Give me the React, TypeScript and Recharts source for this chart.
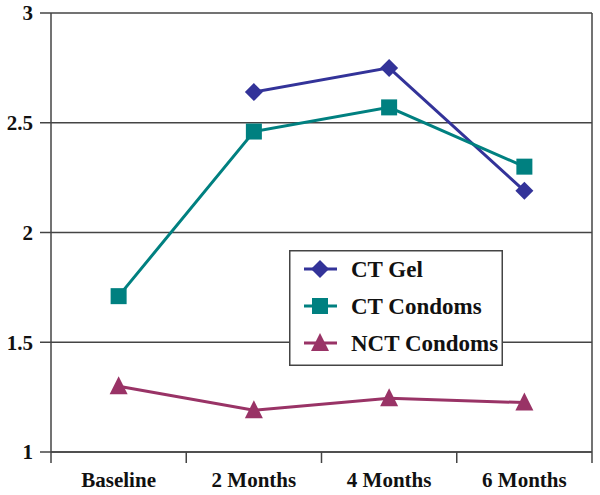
import { CartesianGrid, Line, LineChart, XAxis, YAxis } from 'recharts';

const categories = ['Baseline', '2 Months', '4 Months', '6 Months'];
const ctGel = [null, 2.64, 2.75, 2.19];
const ctCondoms = [1.71, 2.46, 2.57, 2.3];
const nctCondoms = [1.3, 1.19, 1.245, 1.225];
const yTicks = [1, 1.5, 2, 2.5, 3];

const GEL = '#333399';
const CONDOM = '#008080';
const NCT = '#993366';
const AXIS = '#444444';
const FONT = 'Liberation Serif, Times New Roman, serif';

const W = 600;
const H = 495;
const LEFT = 51;
const RIGHT = 8;
const band = (W - LEFT - RIGHT) / categories.length;

const data = categories.map((c, i) => ({
  name: c,
  gel: ctGel[i],
  condoms: ctCondoms[i],
  nct: nctCondoms[i],
}));

function Marker({ shape, cx, cy, color }: { shape: string; cx: number; cy: number; color: string }) {
  if (shape === 'diamond') {
    const r = 9;
    return <polygon points={`${cx},${cy - r} ${cx + r},${cy} ${cx},${cy + r} ${cx - r},${cy}`} fill={color} />;
  }
  if (shape === 'square') {
    return <rect x={cx - 8} y={cy - 8} width={16} height={16} fill={color} />;
  }
  return <polygon points={`${cx},${cy - 10} ${cx + 9},${cy + 8} ${cx - 9},${cy + 8}`} fill={color} />;
}

const makeDot = (shape: string, color: string) => (props: any) => {
  const { cx, cy, index, value } = props;
  if (cx == null || cy == null || value == null) return <g key={`${shape}-${index}`} />;
  return <Marker key={`${shape}-${index}`} shape={shape} cx={cx} cy={cy} color={color} />;
};

// category labels centred, tick marks on the band boundaries (Excel style)
function XTick(props: any) {
  const { x, y, payload, index } = props;
  const last = index === categories.length - 1;
  return (
    <g>
      <line x1={x - band / 2} x2={x - band / 2} y1={y} y2={y + 11} stroke={AXIS} strokeWidth={1.5} />
      {last && <line x1={x + band / 2} x2={x + band / 2} y1={y} y2={y + 11} stroke={AXIS} strokeWidth={1.5} />}
      <text
        x={x}
        y={y + 35}
        textAnchor="middle"
        style={{ fontFamily: FONT }}
        fontWeight="bold"
        fontSize={21}
        fill="#111"
      >
        {payload.value}
      </text>
    </g>
  );
}

const legendItems = [
  { label: 'CT Gel', color: GEL, shape: 'diamond' },
  { label: 'CT Condoms', color: CONDOM, shape: 'square' },
  { label: 'NCT Condoms', color: NCT, shape: 'triangle' },
];

function LegendBox() {
  return (
    <svg width={214} height={116} style={{ display: 'block' }}>
      <rect x={0.75} y={0.75} width={212.5} height={114.5} fill="#fff" stroke={AXIS} strokeWidth={1.5} />
      {legendItems.map((it, i) => {
        const cy = 19 + i * 37;
        return (
          <g key={it.label}>
            <line x1={15} x2={48} y1={cy} y2={cy} stroke={it.color} strokeWidth={3} />
            <Marker shape={it.shape} cx={31} cy={cy} color={it.color} />
            <text x={62} y={cy + 8} style={{ fontFamily: FONT }} fontWeight="bold" fontSize={23} fill="#111">
              {it.label}
            </text>
          </g>
        );
      })}
    </svg>
  );
}

export default function App() {
  return (
    <div
      style={{
        position: 'absolute',
        left: 0,
        top: 0,
        width: W,
        height: H,
        background: '#fff',
        fontFamily: FONT,
        fontWeight: 'bold',
      }}
    >
      <LineChart width={W} height={H} data={data} margin={{ top: 13, right: 0, left: 0, bottom: 0 }}>
        <CartesianGrid yAxisId="left" vertical={false} stroke={AXIS} strokeWidth={1.5} />
        <XAxis
          dataKey="name"
          height={43}
          tickLine={false}
          tickSize={0}
          tickMargin={0}
          padding={{ left: band / 2, right: band / 2 }}
          axisLine={{ stroke: AXIS, strokeWidth: 1.5 }}
          tick={<XTick />}
          interval={0}
        />
        <YAxis
          yAxisId="left"
          width={LEFT}
          domain={[1, 3]}
          ticks={yTicks}
          tickSize={11}
          tickMargin={7}
          axisLine={{ stroke: AXIS, strokeWidth: 1.5 }}
          tickLine={{ stroke: AXIS, strokeWidth: 1.5 }}
          tick={{ fontFamily: 'Liberation Serif', fontWeight: 'bold', fontSize: 21, fill: '#111' }}
        />
        <YAxis
          yAxisId="right"
          orientation="right"
          width={RIGHT}
          domain={[1, 3]}
          tick={false}
          tickLine={false}
          axisLine={{ stroke: AXIS, strokeWidth: 1.5 }}
        />
        <Line
          yAxisId="left"
          dataKey="gel"
          name="CT Gel"
          stroke={GEL}
          strokeWidth={3}
          dot={makeDot('diamond', GEL)}
          activeDot={false}
          isAnimationActive={false}
        />
        <Line
          yAxisId="left"
          dataKey="condoms"
          name="CT Condoms"
          stroke={CONDOM}
          strokeWidth={3}
          dot={makeDot('square', CONDOM)}
          activeDot={false}
          isAnimationActive={false}
        />
        <Line
          yAxisId="left"
          dataKey="nct"
          name="NCT Condoms"
          stroke={NCT}
          strokeWidth={3}
          dot={makeDot('triangle', NCT)}
          activeDot={false}
          isAnimationActive={false}
        />
      </LineChart>
      <div style={{ position: 'absolute', left: 289, top: 250 }}>
        <LegendBox />
      </div>
    </div>
  );
}
